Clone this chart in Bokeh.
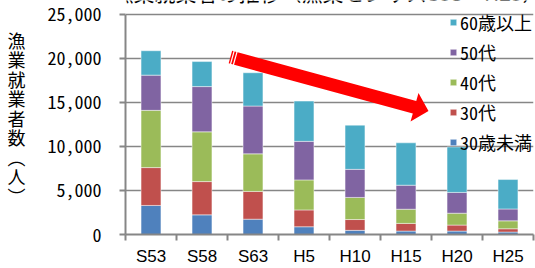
from bokeh.plotting import figure
from bokeh.models import (ColumnDataSource, Range1d, FixedTicker, NumeralTickFormatter,
                          Legend, LegendItem, Label)
from bokeh.embed import file_html
from bokeh.resources import INLINE

# ---- data ----
categories = ["S53", "S58", "S63", "H5", "H10", "H15", "H20", "H25"]
series_labels = ["30歳未満", "30代", "40代", "50代", "60歳以上"]
under30 = [3300, 2230, 1740, 880, 470, 390, 390, 280]
age30s = [4300, 3780, 3150, 1910, 1230, 870, 680, 370]
age40s = [6500, 5650, 4270, 3410, 2510, 1610, 1350, 900]
age50s = [4000, 5140, 5430, 4380, 3190, 2730, 2360, 1350]
age60plus = [2770, 2840, 3780, 4570, 5020, 4810, 5160, 3340]
colors = ["#4F81BD", "#C0504D", "#9BBB59", "#8064A2", "#4BACC6"]
y_ticks = [0, 5000, 10000, 15000, 20000, 25000]
title_text = "＜漁業就業者の推移（漁業センサスS53～H25）＞"
y_title = "漁\n業\n就\n業\n者\n数\n︵\n人\n︶"

FONT = "Noto Sans Mono CJK JP, Noto Sans CJK JP"
GRAY = "#868686"

W, H = 535, 268
LEFT, RIGHT, BOTTOM = 125, 2, 32
Y_TOP_PX = 14                     # canvas y of the 25,000 line
FW = W - LEFT - RIGHT
FRAME_BOTTOM = H - BOTTOM         # frame spans canvas y 0..FRAME_BOTTOM
NCAT = len(categories)
YMAX = y_ticks[-1]
Y_END = YMAX * FRAME_BOTTOM / (FRAME_BOTTOM - Y_TOP_PX)

keys = ["u30", "a30", "a40", "a50", "a60"]
xs = [i + 0.5 for i in range(NCAT)]
src = ColumnDataSource(dict(x=xs, u30=under30, a30=age30s, a40=age40s,
                            a50=age50s, a60=age60plus))

p = figure(width=W, height=H, x_range=Range1d(0, NCAT), y_range=Range1d(0, Y_END),
           output_backend="svg", toolbar_location=None,
           min_border_left=LEFT, min_border_right=RIGHT,
           min_border_top=0, min_border_bottom=BOTTOM,
           outline_line_color=None, background_fill_color="white")

rs = p.vbar_stack(keys, x="x", width=0.39, color=colors, source=src,
                  line_color="white", line_alpha=0.45, line_width=1)

# axes
p.yaxis.ticker = FixedTicker(ticks=y_ticks)
p.yaxis.bounds = (0, YMAX)
p.yaxis.formatter = NumeralTickFormatter(format="0,0")
p.yaxis.major_tick_out = 6
p.yaxis.major_tick_in = 0
p.yaxis.minor_tick_out = 0
p.yaxis.axis_line_color = GRAY
p.yaxis.axis_line_width = 2
p.yaxis.major_tick_line_color = GRAY
p.yaxis.major_tick_line_width = 2
p.yaxis.major_label_standoff = 18
p.yaxis.major_label_text_font = FONT
p.yaxis.major_label_text_font_size = "18px"
p.yaxis.major_label_text_color = "black"
p.yaxis.axis_label = y_title
p.yaxis.axis_label_orientation = "horizontal"
p.yaxis.axis_label_standoff = 19
p.yaxis.axis_label_text_font = "Noto Sans CJK JP"
p.yaxis.axis_label_text_font_size = "18px"
p.yaxis.axis_label_text_font_style = "normal"
p.yaxis.axis_label_text_color = "black"
p.yaxis.axis_label_text_line_height = 0.75

p.xaxis.ticker = FixedTicker(ticks=xs, minor_ticks=list(range(NCAT + 1)))
p.xaxis.major_label_overrides = {x: c for x, c in zip(xs, categories)}
p.xaxis.major_tick_out = 0
p.xaxis.major_tick_in = 0
p.xaxis.minor_tick_out = 6
p.xaxis.minor_tick_in = 0
p.xaxis.minor_tick_line_color = GRAY
p.xaxis.minor_tick_line_width = 2
p.xaxis.axis_line_color = GRAY
p.xaxis.axis_line_width = 2
p.xaxis.major_label_standoff = 6
p.xaxis.major_label_text_font = "Liberation Sans"
p.xaxis.major_label_text_font_size = "17px"
p.xaxis.major_label_text_color = "black"

p.xgrid.grid_line_color = None
p.ygrid.ticker = FixedTicker(ticks=y_ticks)
p.ygrid.grid_line_color = GRAY
p.ygrid.grid_line_width = 1.5

# pixel -> data helpers for decorative shapes
def dx(px):
    return (px - LEFT) / FW * NCAT

def dy(py):
    return (FRAME_BOTTOM - py) / (FRAME_BOTTOM - Y_TOP_PX) * YMAX

# red arrow (decorative)
S = (229.9, 57.0)
T = (428.0, 111.5)
vx, vy = T[0] - S[0], T[1] - S[1]
ln = (vx * vx + vy * vy) ** 0.5
u = (vx / ln, vy / ln)
n = (-u[1], u[0])
hw, head_len, head_hw = 6.5, 14.5, 15.0
B = (T[0] - head_len * u[0], T[1] - head_len * u[1])
pts = [
    (S[0] + hw * n[0], S[1] + hw * n[1]),
    (B[0] + hw * n[0], B[1] + hw * n[1]),
    (B[0] + head_hw * n[0], B[1] + head_hw * n[1]),
    T,
    (B[0] - head_hw * n[0], B[1] - head_hw * n[1]),
    (B[0] - hw * n[0], B[1] - hw * n[1]),
    (S[0] - hw * n[0], S[1] - hw * n[1]),
]
p.patch([dx(a) for a, b in pts], [dy(b) for a, b in pts], color="red", line_width=0)
for t in (2.0, 5.0):
    P = (S[0] + t * u[0], S[1] + t * u[1])
    p.segment(x0=[dx(P[0] + 7 * n[0])], y0=[dy(P[1] + 7 * n[1])],
              x1=[dx(P[0] - 7 * n[0])], y1=[dy(P[1] - 7 * n[1])],
              line_color="white", line_width=1.2)

# legend
items = [LegendItem(label=series_labels[i], renderers=[rs[i]]) for i in reversed(range(5))]
ITEM_H = 26
SPACING = 4
leg_h = 5 * ITEM_H + 4 * SPACING
leg_top = 23.5 - ITEM_H / 2  # canvas y of top edge
legend = Legend(items=items, location=(449 - LEFT, FRAME_BOTTOM - (leg_top + leg_h)),
                glyph_width=8, glyph_height=8,
                label_standoff=3, spacing=SPACING, padding=0, margin=0, label_height=20,
                background_fill_alpha=0, border_line_color=None,
                label_text_font=FONT, label_text_font_size="18px",
                label_text_color="black")
p.add_layout(legend)

# title (clipped at the top of the picture)
p.add_layout(Label(x=dx(91), y=dy(-8.4), x_units="data", y_units="data", level="overlay",
                   text=title_text, text_align="left", text_baseline="alphabetic",
                   text_font="Noto Sans CJK JP", text_font_size="21px",
                   text_color="black"))

open("out.html", "w").write(file_html(p, INLINE))
